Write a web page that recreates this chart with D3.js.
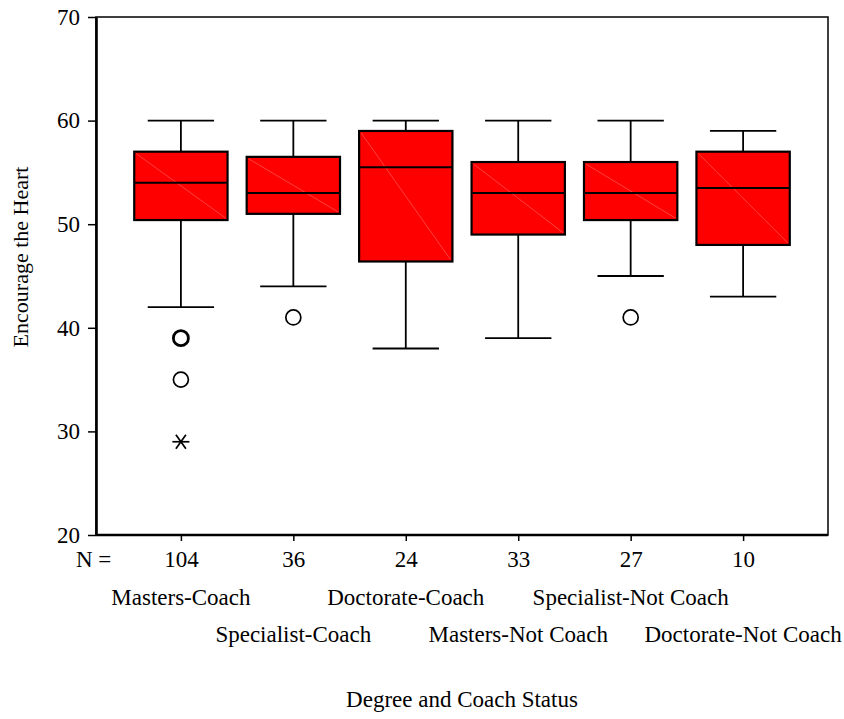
<!DOCTYPE html>
<html>
<head>
<meta charset="utf-8">
<script src="https://cdn.jsdelivr.net/npm/d3@7"></script>
<style>
  body { margin: 0; background: #fff; }
  svg { display: block; font-family: "Liberation Serif", "Times New Roman", serif; }
</style>
</head>
<body>
<script>
// groups and their box statistics
const categories = ['Masters-Coach', 'Specialist-Coach', 'Doctorate-Coach',
  'Masters-Not Coach', 'Specialist-Not Coach', 'Doctorate-Not Coach'];
const counts = [104, 36, 24, 33, 27, 10];
const whiskerLow = [42, 44, 38, 39, 45, 43];
const q1 = [50.4, 51, 46.4, 49, 50.4, 48];
const median = [54, 53, 55.5, 53, 53, 53.5];
const q3 = [57, 56.5, 59, 56, 56, 57];
const whiskerHigh = [60, 60, 60, 60, 60, 59];
// outliers: [group index, value, repeated count]
const outliers = [[0, 39, 2], [0, 35, 1], [1, 41, 1], [4, 41, 1]];
const extremes = [[0, 29]];
const yTicks = [20, 30, 40, 50, 60, 70];

const width = 844, height = 719;
const margin = {top: 17, right: 16, bottom: 184, left: 96};
const fontSize = 23;

const svg = d3.select('body').append('svg')
  .attr('width', width)
  .attr('height', height)
  .attr('viewBox', [0, 0, width, height]);

const x = d3.scalePoint()
  .domain(categories)
  .range([margin.left, width - margin.right])
  .padding(0.755);

const y = d3.scaleLinear()
  .domain([20, 70])
  .range([height - margin.bottom, margin.top]);

const step = x.step();
const boxW = step * 0.83;
const capW = step * 0.59;

// frame
svg.append('rect')
  .attr('x', margin.left)
  .attr('y', margin.top)
  .attr('width', width - margin.right - margin.left)
  .attr('height', height - margin.bottom - margin.top)
  .attr('fill', 'none')
  .attr('stroke', '#000')
  .attr('stroke-width', 1.5);

// y axis
const gy = svg.append('g')
  .attr('transform', `translate(${margin.left},0)`)
  .call(d3.axisLeft(y).tickValues(yTicks).tickSize(8).tickPadding(8).tickSizeOuter(0));
gy.select('.domain').attr('stroke-width', 2.6);
gy.selectAll('.tick line').attr('stroke-width', 1.5);
gy.selectAll('.tick text')
  .attr('font-size', fontSize)
  .attr('font-family', '"Liberation Serif", serif')
  .attr('fill', '#000');

// x axis with N counts as tick labels
const gx = svg.append('g')
  .attr('transform', `translate(0,${height - margin.bottom})`)
  .call(d3.axisBottom(x).tickSize(6).tickSizeOuter(0).tickFormat((d, i) => counts[i]));
gx.select('.domain').attr('stroke-width', 2.6)
  .attr('d', `M${margin.left},0H${width - margin.right}`);
gx.selectAll('.tick line').attr('stroke-width', 1.5);
gx.selectAll('.tick text')
  .attr('font-size', fontSize)
  .attr('font-family', '"Liberation Serif", serif')
  .attr('fill', '#000')
  .attr('y', 0)
  .attr('dy', 32);

svg.append('text')
  .attr('x', 76)
  .attr('y', height - margin.bottom + 32)
  .attr('font-size', fontSize)
  .text('N =');

// category labels in two staggered rows
svg.append('g')
  .selectAll('text')
  .data(categories)
  .join('text')
  .attr('x', d => x(d))
  .attr('y', (d, i) => i % 2 ? 642 : 605)
  .attr('text-anchor', 'middle')
  .attr('font-size', fontSize)
  .text(d => d);

svg.append('text')
  .attr('x', (margin.left + width - margin.right) / 2)
  .attr('y', 707)
  .attr('text-anchor', 'middle')
  .attr('font-size', fontSize)
  .text('Degree and Coach Status');

svg.append('text')
  .attr('transform', `translate(28,257) rotate(-90)`)
  .attr('text-anchor', 'middle')
  .attr('font-size', 22)
  .text('Encourage the Heart');

// boxes
const g = svg.append('g')
  .selectAll('g')
  .data(categories)
  .join('g');

g.append('line')
  .attr('x1', d => x(d)).attr('x2', d => x(d))
  .attr('y1', (d, i) => y(whiskerHigh[i]))
  .attr('y2', (d, i) => y(whiskerLow[i]))
  .attr('stroke', '#000').attr('stroke-width', 1.8);

for (const w of [whiskerHigh, whiskerLow]) {
  g.append('line')
    .attr('x1', d => x(d) - capW / 2).attr('x2', d => x(d) + capW / 2)
    .attr('y1', (d, i) => y(w[i])).attr('y2', (d, i) => y(w[i]))
    .attr('stroke', '#000').attr('stroke-width', 1.8);
}

g.append('rect')
  .attr('x', d => x(d) - boxW / 2)
  .attr('y', (d, i) => y(q3[i]))
  .attr('width', boxW)
  .attr('height', (d, i) => y(q1[i]) - y(q3[i]))
  .attr('fill', '#ff0000')
  .attr('stroke', '#000')
  .attr('stroke-width', 2.2);

g.append('line')
  .attr('x1', d => x(d) - boxW / 2 + 2).attr('x2', d => x(d) + boxW / 2 - 2)
  .attr('y1', (d, i) => y(q3[i]) + 2).attr('y2', (d, i) => y(q1[i]) - 2)
  .attr('stroke', '#ff6a6a').attr('stroke-width', 0.6);

g.append('line')
  .attr('x1', d => x(d) - boxW / 2).attr('x2', d => x(d) + boxW / 2)
  .attr('y1', (d, i) => y(median[i])).attr('y2', (d, i) => y(median[i]))
  .attr('stroke', '#000').attr('stroke-width', 2);

// outliers
svg.append('g')
  .selectAll('circle')
  .data(outliers)
  .join('circle')
  .attr('cx', d => x(categories[d[0]]))
  .attr('cy', d => y(d[1]))
  .attr('r', 7.5)
  .attr('fill', 'none')
  .attr('stroke', '#000')
  .attr('stroke-width', d => d[2] > 1 ? 2.8 : 1.7);

// extreme values as asterisks
const star = svg.append('g')
  .selectAll('g')
  .data(extremes)
  .join('g')
  .attr('transform', d => `translate(${x(categories[d[0]])},${y(d[1])})`)
  .attr('stroke', '#000')
  .attr('stroke-width', 1.7);
star.append('line').attr('x1', -8.5).attr('x2', 8.5).attr('y1', 0).attr('y2', 0);
star.append('line').attr('x1', -5).attr('x2', 5).attr('y1', -7).attr('y2', 7);
star.append('line').attr('x1', -5).attr('x2', 5).attr('y1', 7).attr('y2', -7);
</script>
</body>
</html>
